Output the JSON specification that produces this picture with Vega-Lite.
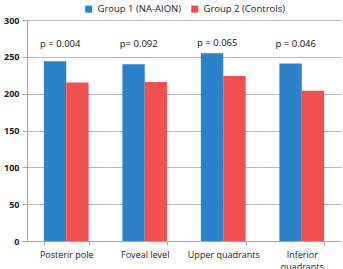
{
  "$schema": "https://vega.github.io/schema/vega-lite/v6.json",
  "width": 314,
  "height": 221,
  "autosize": {"type": "none"},
  "padding": {"left": 27, "top": 20, "right": 2, "bottom": 28},
  "config": {
    "view": {"stroke": null},
    "font": "Open Sans",
    "axis": {"domainColor": "#a6a6a6", "tickColor": "#a6a6a6", "gridColor": "#b8b8b8", "labelColor": "#222", "labelFontSize": 9, "title": null}
  },
  "data": {
    "values": [
      {"region": "Posterir pole", "group": "Group 1 (NA-AION)", "value": 244},
      {"region": "Posterir pole", "group": "Group 2 (Controls)", "value": 215},
      {"region": "Foveal level", "group": "Group 1 (NA-AION)", "value": 240},
      {"region": "Foveal level", "group": "Group 2 (Controls)", "value": 216},
      {"region": "Upper quadrants", "group": "Group 1 (NA-AION)", "value": 255},
      {"region": "Upper quadrants", "group": "Group 2 (Controls)", "value": 224},
      {"region": "Inferior quadrants", "group": "Group 1 (NA-AION)", "value": 241},
      {"region": "Inferior quadrants", "group": "Group 2 (Controls)", "value": 204}
    ]
  },
  "layer": [
    {
      "mark": {"type": "bar"},
      "encoding": {
        "x": {"field": "region", "type": "nominal", "sort": null,
              "scale": {"paddingInner": 0.43, "paddingOuter": 0.215},
              "axis": {"labelAngle": 0, "tickBand": "extent", "tickSize": 4, "labelPadding": 5, "labelLineHeight": 12,
                       "labelExpr": "datum.label == 'Inferior quadrants' ? ['Inferior', 'quadrants'] : datum.label"}},
        "xOffset": {"field": "group", "type": "nominal"},
        "y": {"field": "value", "type": "quantitative",
              "scale": {"domain": [0, 300], "nice": false},
              "axis": {"values": [0, 50, 100, 150, 200, 250, 300], "labelOverlap": false, "labelFlush": false, "tickSize": 5, "labelFontWeight": "bold", "labelPadding": 3}},
        "color": {"field": "group", "type": "nominal",
                  "scale": {"range": ["#2b82cb", "#f05050"]},
                  "legend": {"orient": "none", "legendX": 57, "legendY": -16, "direction": "horizontal", "title": null, "symbolType": "square", "symbolSize": 50, "labelFontSize": 9.5, "labelColor": "#222", "columnPadding": 8, "symbolStrokeWidth": 0}}
      }
    },
    {
      "data": {
        "values": [
          {"region": "Posterir pole", "p": "p = 0.004", "ypos": 268},
          {"region": "Foveal level", "p": "p=  0.092", "ypos": 268},
          {"region": "Upper quadrants", "p": "p = 0.065", "ypos": 269},
          {"region": "Inferior quadrants", "p": "p = 0.046", "ypos": 268}
        ]
      },
      "mark": {"type": "text", "fontSize": 9.5, "color": "#111", "dx": -6},
      "encoding": {
        "x": {"field": "region", "type": "nominal", "sort": null,
              "axis": {"labelAngle": 0, "tickBand": "extent", "tickSize": 4, "labelPadding": 5, "labelLineHeight": 12,
                       "labelExpr": "datum.label == 'Inferior quadrants' ? ['Inferior', 'quadrants'] : datum.label"}},
        "y": {"field": "ypos", "type": "quantitative",
              "axis": {"values": [0, 50, 100, 150, 200, 250, 300], "labelOverlap": false, "labelFlush": false, "tickSize": 5, "labelFontWeight": "bold", "labelPadding": 3}},
        "text": {"field": "p"}
      }
    }
  ]
}
